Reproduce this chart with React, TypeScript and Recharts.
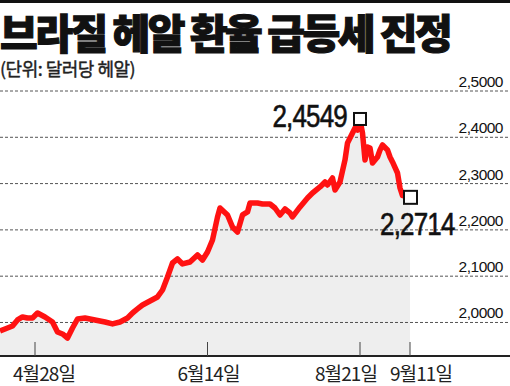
import { AreaChart, Area, XAxis, YAxis, CartesianGrid, ReferenceDot } from 'recharts';

// trading-day index along the x axis and BRL per USD on that day
const days = [
    0, 2, 5, 7, 9, 11, 13, 15, 18, 21, 23, 25, 27, 29, 31, 34, 38, 42, 45, 48,
    51, 53, 55, 57, 60, 63, 65, 67, 69, 71, 73, 76, 79, 81, 83, 85, 87, 88, 91, 93,
    95, 97, 99, 100, 103, 105, 108, 110, 112, 114, 116, 117, 120, 123, 125, 128, 130, 131, 133, 134,
    136, 138, 139, 141, 142, 143, 144, 145, 146, 147, 148, 149, 151, 152, 153, 155, 156, 157, 159, 160,
    161, 164,
];
const rates = [
    1.9816, 1.986, 1.9924, 2.0054, 2.0119, 2.0097, 2.0097, 2.0205, 2.0119, 2.0011,
    1.9795, 1.9752, 1.9665, 1.9881, 2.0076, 2.0097, 2.0054, 2.0011, 1.9968, 2.0011,
    2.0097, 2.0205, 2.0292, 2.0378, 2.0464, 2.0551, 2.0702, 2.0983, 2.1285, 2.1372,
    2.1264, 2.1307, 2.1458, 2.135, 2.1523, 2.1782, 2.2279, 2.2473, 2.2322, 2.2063,
    2.1955, 2.2322, 2.2387, 2.2581, 2.2581, 2.2559, 2.2559, 2.2473, 2.2322, 2.2451,
    2.2365, 2.2279, 2.2495, 2.2689, 2.2797, 2.2927, 2.3035, 2.297, 2.3121, 2.2862,
    2.3035, 2.351, 2.3877, 2.4093, 2.4201, 2.4158, 2.4374, 2.4093, 2.351, 2.3791,
    2.3769, 2.3445, 2.3575, 2.3726, 2.3834, 2.3726, 2.3575, 2.3467, 2.3229, 2.2905,
    2.274, 2.2714,
];

const tickDays = [14, 83, 144, 164];
const tickLabels = ['4월28일', '6월14일', '8월21일', '9월11일'];
const yTicks = [2.0, 2.1, 2.2, 2.3, 2.4, 2.5];

const peakLabel = '2,4549';
const lastLabel = '2,2714';

const data = days.map((d, i) => ({ day: d, rate: rates[i] }));
const peakIdx = rates.indexOf(Math.max(...rates));
const lastIdx = rates.length - 1;

const kr = '"Noto Sans CJK KR", "Noto Sans", sans-serif';
const latin = '"Liberation Sans", Arial, sans-serif';

// labels are nudged sideways in the original so the last two don't collide
const labelNudge = [9, 1, -14, 11];

const XTick = (props: any) => {
    const { x, y, payload } = props;
    const i = tickDays.indexOf(payload.value);
    return (
        <g>
            <line x1={x} x2={x} y1={y - 14} y2={y} stroke="#444" strokeWidth={1} />
            <text x={x + labelNudge[i]} y={y + 25} textAnchor="middle" fontFamily={kr} fontSize={19} fill="#222" letterSpacing={-0.9}>
                {tickLabels[i]}
            </text>
        </g>
    );
};

const YTick = (props: any) => {
    const { y, payload } = props;
    return (
        <text x={503} y={y - 4} textAnchor="end" fontFamily={latin} fontSize={15.5} fill="#111" letterSpacing={-0.5}>
            {Number(payload.value).toFixed(4).replace('.', ',')}
        </text>
    );
};

// condensed big number next to a marker
const BigNum = ({ x, y, anchor, text }: any) => (
    <g transform={`translate(${x},${y}) scale(0.84,1)`}>
        <text x={0} y={0} textAnchor={anchor} fontFamily={latin} fontSize={31} fill="#111" stroke="#111" strokeWidth={0.6} letterSpacing={-1}>
            {text}
        </text>
    </g>
);

const PeakMark = (props: any) => {
    const { cx, cy } = props;
    return (
        <g>
            <rect x={cx - 6} y={cy - 7} width={12} height={12} fill="#fff" stroke="#111" strokeWidth={2} />
            <BigNum x={cx - 13} y={cy + 7} anchor="end" text={peakLabel} />
        </g>
    );
};

const LastMark = (props: any) => {
    const { cx, cy } = props;
    return (
        <g>
            <rect x={cx - 6} y={cy - 6} width={13} height={13} fill="#fff" stroke="#111" strokeWidth={2} />
            <BigNum x={cx - 30} y={cy + 38} anchor="start" text={lastLabel} />
        </g>
    );
};

export default function App() {
    return (
        <div style={{ position: 'absolute', left: 0, top: 0, width: 510, height: 386, background: '#fff', overflow: 'hidden' }}>
            <div style={{ position: 'absolute', left: 0, top: 0, width: 510, height: 3, background: '#111' }} />
            <div
                style={{
                    position: 'absolute', left: 0, top: 11, fontFamily: kr, fontWeight: 900,
                    fontSize: 41, lineHeight: '40px', letterSpacing: -2.5, color: '#111', whiteSpace: 'nowrap',
                    WebkitTextStroke: '1.2px #111',
                }}
            >
                브라질 헤알 환율 급등세 진정
            </div>
            <div
                style={{
                    position: 'absolute', left: 0, top: 58, fontFamily: kr, fontSize: 18,
                    lineHeight: '20px', letterSpacing: -0.5, color: '#222', whiteSpace: 'nowrap',
                    WebkitTextStroke: '0.4px #222',
                }}
            >
                (단위: 달러당 헤알)
            </div>
            <div style={{ position: 'absolute', left: 0, top: 0 }}>
                <AreaChart width={510} height={386} data={data} margin={{ top: 91, right: -1, bottom: 0, left: 0 }}>
                    <CartesianGrid vertical={false} stroke="#555" strokeDasharray="3 2" />
                    <XAxis
                        dataKey="day"
                        type="number"
                        domain={[0, 204]}
                        ticks={tickDays}
                        height={30}
                        tickLine={false}
                        tickSize={0}
                        tickMargin={0}
                        axisLine={{ stroke: '#222', strokeWidth: 2 }}
                        tick={<XTick />}
                        interval={0}
                    />
                    <YAxis
                        orientation="right"
                        width={1}
                        domain={[1.9276, 2.5]}
                        ticks={yTicks}
                        axisLine={false}
                        tickLine={false}
                        tick={<YTick />}
                        interval={0}
                    />
                    <Area
                        type="linear"
                        dataKey="rate"
                        stroke="#ff1212"
                        strokeWidth={5.5}
                        strokeLinejoin="round"
                        fill="#000"
                        fillOpacity={0.065}
                        isAnimationActive={false}
                        dot={false}
                        activeDot={false}
                    />
                    <ReferenceDot x={days[peakIdx]} y={rates[peakIdx]} shape={<PeakMark />} />
                    <ReferenceDot x={days[lastIdx]} y={rates[lastIdx]} shape={<LastMark />} />
                </AreaChart>
            </div>
        </div>
    );
}
